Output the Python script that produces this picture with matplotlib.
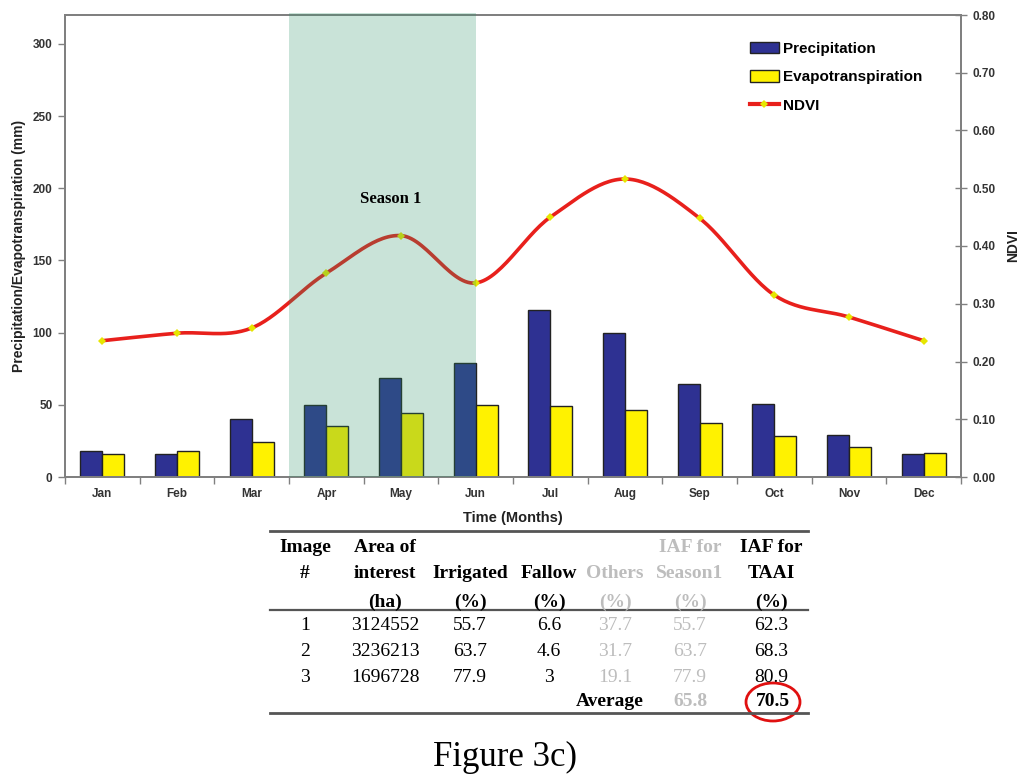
import numpy as np
import matplotlib
matplotlib.use("Agg")
import matplotlib.pyplot as plt
from matplotlib.lines import Line2D
from matplotlib.patches import Patch, Ellipse

months = ["Jan", "Feb", "Mar", "Apr", "May", "Jun", "Jul", "Aug", "Sep", "Oct", "Nov", "Dec"]
precip = [18.2, 16.0, 40.4, 50.0, 68.4, 78.8, 115.7, 100.0, 64.4, 50.6, 28.9, 16.0]
evapo = [16.2, 18.0, 24.3, 35.0, 44.0, 50.0, 49.2, 46.2, 37.4, 28.4, 20.6, 16.8]
ndvi = [0.236, 0.249, 0.258, 0.353, 0.418, 0.336, 0.450, 0.516, 0.448, 0.315, 0.277, 0.236]

table_header = [["Image", "#", ""],
                ["Area of", "interest", "(ha)"],
                ["", "Irrigated", "(%)"],
                ["", "Fallow", "(%)"],
                ["", "Others", "(%)"],
                ["IAF for", "Season1", "(%)"],
                ["IAF for", "TAAI", "(%)"]]
table_rows = [["1", "3124552", "55.7", "6.6", "37.7", "55.7", "62.3"],
              ["2", "3236213", "63.7", "4.6", "31.7", "63.7", "68.3"],
              ["3", "1696728", "77.9", "3", "19.1", "77.9", "80.9"]]
avg_label = "Average"
avg_season1 = "65.8"
avg_taai = "70.5"

W, H = 1024, 779
fig = plt.figure(figsize=(W / 100, H / 100), dpi=100)
fig.patch.set_facecolor("white")

def fx(px):
    return px / W

def fy(py):
    return 1 - py / H

ax = fig.add_axes([fx(65), fy(477), fx(961) - fx(65), fy(15) - fy(477)])
ax2 = ax.twinx()
ax.set_zorder(ax2.get_zorder() + 1)
ax.patch.set_visible(False)

x = np.arange(len(months))
bw = 0.295
ax.bar(x - bw / 2, precip, bw, color="#2E3192", edgecolor="#222222", linewidth=1.0, zorder=2)
ax.bar(x + bw / 2, evapo, bw, color="#FFF200", edgecolor="#222222", linewidth=1.0, zorder=2)

ax.set_xlim(-0.5, 11.5)
ax.set_ylim(0, 320)
ax2.set_ylim(0, 0.80)

# smooth NDVI line (Excel-like Bezier smoothing in display space)
disp = ax.transData.transform(np.column_stack([x, np.array(ndvi) * 400.0]))
curve = []
n = len(disp)
for i in range(n - 1):
    p0 = disp[i - 1] if i > 0 else disp[i]
    p1 = disp[i]
    p2 = disp[i + 1]
    p3 = disp[i + 2] if i + 2 < n else disp[i + 1]
    c1 = p1 + (p2 - p0) / 6.0
    c2 = p2 - (p3 - p1) / 6.0
    t = np.linspace(0, 1, 30)[:, None]
    seg = (1 - t) ** 3 * p1 + 3 * (1 - t) ** 2 * t * c1 + 3 * (1 - t) * t ** 2 * c2 + t ** 3 * p2
    curve.append(seg if i == 0 else seg[1:])
curve = np.vstack(curve)
cdata = ax.transData.inverted().transform(curve)
ax.plot(cdata[:, 0], cdata[:, 1], color="#E8201C", linewidth=2.6, zorder=3, solid_capstyle="round")
ax.plot(x, np.array(ndvi) * 400.0, linestyle="none", marker="D", markersize=3.6,
        color="#E6E600", markeredgewidth=0, zorder=4)

# season shading on top
ax.axvspan(2.5, 5.0, ymin=0, ymax=1.005, color="#30946A", alpha=0.26, linewidth=0, zorder=5, clip_on=False)
ax.text(3.86, 192.6, "Season 1", family="Liberation Serif", fontweight="bold", fontsize=12,
        ha="center", va="center", zorder=6)

# axes styling
for a in (ax, ax2):
    for s in a.spines.values():
        s.set_color("#808080")
        s.set_linewidth(1.4)

ax.set_xticks(np.arange(-0.5, 12, 1))
ax.set_xticklabels([])
ax.set_xticks(x, minor=True)
ax.set_xticklabels(months, minor=True)
ax.tick_params(axis="x", which="major", length=5, color="#808080", width=1)
ax.tick_params(axis="x", which="minor", length=0, pad=8, labelsize=8.5, labelcolor="#333333")
for lab in ax.get_xticklabels(minor=True):
    lab.set_fontweight("bold")
    lab.set_family("Liberation Sans")

ax.set_yticks(np.arange(0, 301, 50))
ax.tick_params(axis="y", length=5, color="#808080", width=1, labelsize=8.5, labelcolor="#333333", pad=4)
for lab in ax.get_yticklabels():
    lab.set_fontweight("bold")
    lab.set_family("Liberation Sans")

ax2.set_yticks(np.arange(0, 0.81, 0.10))
ax2.set_yticklabels([f"{v:.2f}" for v in np.arange(0, 0.81, 0.10)])
ax2.tick_params(axis="y", direction="inout", length=8, color="#808080", width=1,
                labelsize=8.5, labelcolor="#333333", pad=4)
for lab in ax2.get_yticklabels():
    lab.set_fontweight("bold")
    lab.set_family("Liberation Sans")

ax.set_ylabel("Precipitation/Evapotranspiration (mm)", family="Liberation Sans", fontweight="bold",
              fontsize=10, color="#222222", labelpad=5)
ax2.set_ylabel("NDVI", family="Liberation Sans", fontweight="bold", fontsize=10, color="#222222", labelpad=8)
ax.set_xlabel("Time (Months)", family="Liberation Sans", fontweight="bold", fontsize=10.5,
              color="#222222", labelpad=8)

handles = [Patch(facecolor="#2E3192", edgecolor="#222222", linewidth=1.0),
           Patch(facecolor="#FFF200", edgecolor="#222222", linewidth=1.0),
           Line2D([0], [0], color="#E8201C", linewidth=3, marker="D", markersize=4,
                  markerfacecolor="#E6E600", markeredgewidth=0, markevery=[1])]
handles[2].set_xdata([0, 0.5, 1])
handles[2].set_ydata([0, 0, 0])
leg = fig.legend(handles, ["Precipitation", "Evapotranspiration", "NDVI"], loc="upper left",
                 bbox_to_anchor=(fx(736), fy(28)), frameon=False, handlelength=1.9,
                 handleheight=0.75, handletextpad=0.25, labelspacing=0.95,
                 prop={"family": "Liberation Sans", "weight": "bold", "size": 11})

# table
serif = "Liberation Serif"
tsize = 14
gray = "#BDBDBD"
col_x = [305, 385, 470, 549, 615, 690, 771]
gray_cols = {4, 5}
for py_, lw in [(531, 2.0), (610, 1.6), (713, 2.0)]:
    fig.add_artist(Line2D([fx(270), fx(808)], [fy(py_), fy(py_)], color="#555555", linewidth=lw))
head_y = [548, 574, 602]
for ci, col in enumerate(table_header):
    for ri, txt in enumerate(col):
        if txt:
            fig.text(fx(col_x[ci]), fy(head_y[ri]), txt, family=serif, fontweight="bold", fontsize=tsize,
                     color=gray if ci in gray_cols else "black", ha="center", va="center")
row_y = [626, 652, 678]
for ri, row in enumerate(table_rows):
    for ci, txt in enumerate(row):
        fig.text(fx(col_x[ci]), fy(row_y[ri]), txt, family=serif, fontsize=tsize,
                 color=gray if ci in gray_cols else "black", ha="center", va="center")
fig.text(fx(610), fy(702), avg_label, family=serif, fontweight="bold", fontsize=tsize, ha="center", va="center")
fig.text(fx(690), fy(702), avg_season1, family=serif, fontweight="bold", fontsize=tsize, color=gray,
         ha="center", va="center")
fig.text(fx(773), fy(702), avg_taai, family=serif, fontweight="bold", fontsize=tsize, ha="center", va="center")
fig.add_artist(Ellipse((fx(773), fy(702)), fx(54), 38 / H, fill=False, edgecolor="#E01010", linewidth=2.0))

fig.text(fx(505), fy(757), "Figure 3c)", family=serif, fontsize=25, ha="center", va="center")

fig.savefig("out.png", dpi=100)
